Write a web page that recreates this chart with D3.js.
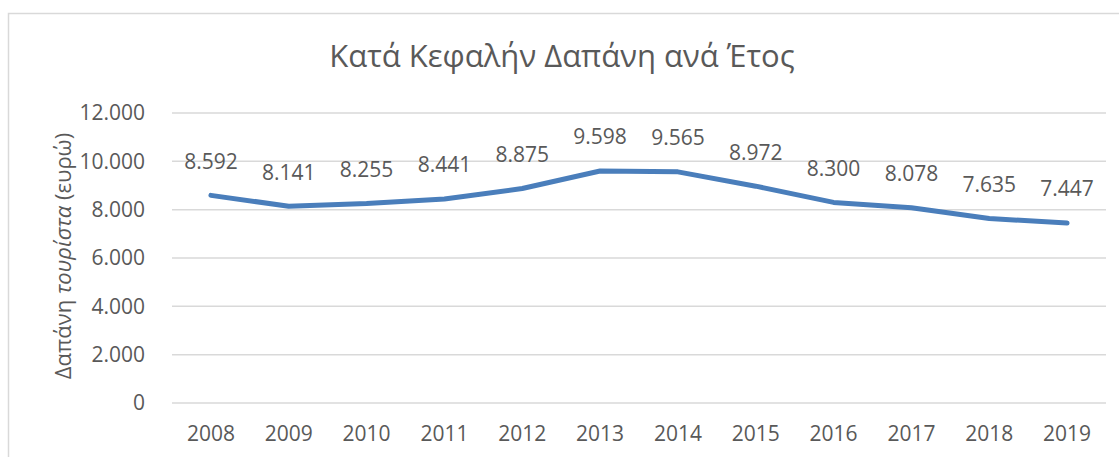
<!DOCTYPE html>
<html>
<head>
<meta charset="utf-8">
<script src="https://cdn.jsdelivr.net/npm/d3@7"></script>
<style>
  body { margin: 0; background: #fff; }
  text { font-family: "Open Sans", sans-serif; fill: #595959; }
</style>
</head>
<body>
<div id="chart"></div>
<script>
const years = ['2008', '2009', '2010', '2011', '2012', '2013', '2014', '2015', '2016', '2017', '2018', '2019'];
const spending = [8592, 8141, 8255, 8441, 8875, 9598, 9565, 8972, 8300, 8078, 7635, 7447];
const yTicks = [0, 2000, 4000, 6000, 8000, 10000, 12000];
const title = 'Κατά Κεφαλήν Δαπάνη ανά Έτος';
const yTitleParts = [
  {text: 'Δαπάνη ', italic: false},
  {text: 'τουρίστα', italic: true},
  {text: ' (ευρώ)', italic: false}
];

const width = 1119;
const height = 457;
const margin = {top: 113, right: 13, bottom: 54, left: 172};
const labelSize = 21;

const fmt = v => d3.format(',')(v).replace(/,/g, '.');

const svg = d3.select('#chart').append('svg')
  .attr('width', width)
  .attr('height', height);

// chart frame
svg.append('rect')
  .attr('x', 8.5).attr('y', 13.5)
  .attr('width', width + 10).attr('height', height + 10)
  .attr('fill', 'none')
  .attr('stroke', '#d9d9d9')
  .attr('stroke-width', 1.5);

const x = d3.scaleBand()
  .domain(years)
  .range([margin.left, width - margin.right]);

const y = d3.scaleLinear()
  .domain([0, 12000])
  .range([height - margin.bottom, margin.top]);

// gridlines
svg.append('g')
  .selectAll('line')
  .data(yTicks)
  .join('line')
    .attr('x1', margin.left)
    .attr('x2', width - margin.right)
    .attr('y1', d => y(d))
    .attr('y2', d => y(d))
    .attr('stroke', '#d9d9d9')
    .attr('stroke-width', 1.5);

const yAxis = g => g
  .attr('transform', `translate(${margin.left - 24},0)`)
  .call(d3.axisLeft(y).tickValues(yTicks).tickFormat(fmt).tickSize(0))
  .call(g => g.select('.domain').remove())
  .call(g => g.selectAll('text')
    .attr('font-size', labelSize)
    .attr('fill', '#595959')
    .attr('font-family', '"Open Sans", sans-serif'));

const xAxis = g => g
  .attr('transform', `translate(0,${height - margin.bottom})`)
  .call(d3.axisBottom(x).tickSize(0))
  .call(g => g.select('.domain').remove())
  .call(g => g.selectAll('text')
    .attr('dy', '1.65em')
    .attr('font-size', labelSize)
    .attr('fill', '#595959')
    .attr('font-family', '"Open Sans", sans-serif'));

svg.append('g').call(yAxis);
svg.append('g').call(xAxis);

const line = d3.line()
  .x((d, i) => x(years[i]) + x.bandwidth() / 2)
  .y(d => y(d));

svg.append('path')
  .datum(spending)
  .attr('fill', 'none')
  .attr('stroke', '#4a7ebb')
  .attr('stroke-width', 5)
  .attr('stroke-linejoin', 'round')
  .attr('stroke-linecap', 'round')
  .attr('d', line);

// data labels
svg.append('g')
  .selectAll('text')
  .data(spending)
  .join('text')
    .attr('x', (d, i) => x(years[i]) + x.bandwidth() / 2)
    .attr('y', d => y(d) - 34)
    .attr('dy', '0.35em')
    .attr('text-anchor', 'middle')
    .attr('font-size', labelSize)
    .text(d => fmt(d));

svg.append('text')
  .attr('x', 562)
  .attr('y', 67)
  .attr('text-anchor', 'middle')
  .attr('font-size', 31)
  .text(title);

svg.append('text')
  .attr('transform', 'translate(63,256) rotate(-90)')
  .attr('dy', '0.35em')
  .attr('text-anchor', 'middle')
  .attr('font-size', 22)
  .selectAll('tspan')
  .data(yTitleParts)
  .join('tspan')
    .attr('font-style', d => d.italic ? 'italic' : 'normal')
    .text(d => d.text);
</script>
</body>
</html>
